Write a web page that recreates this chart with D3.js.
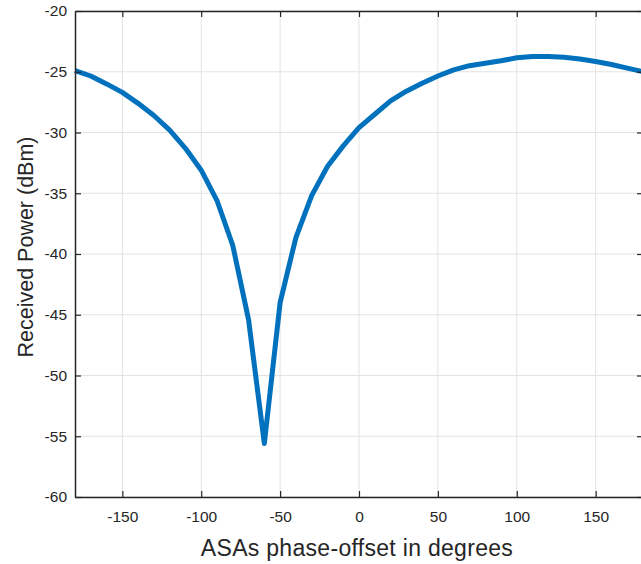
<!DOCTYPE html>
<html>
<head>
<meta charset="utf-8">
<script src="https://cdn.jsdelivr.net/npm/d3@7"></script>
<style>
  html, body { margin: 0; padding: 0; background: #fff; }
  svg { display: block; }
  text { font-family: Arial, "Liberation Sans", Helvetica, sans-serif; }
</style>
</head>
<body>
<svg id="chart" width="641" height="564"></svg>
<script>
// Phase offset (degrees) applied to the ASAs
const phaseOffset = [-180, -170, -160, -150, -140, -130, -120, -110, -100, -90,
  -80, -70, -60, -50, -40, -30, -20, -10, 0, 10, 20, 30, 40, 50, 60, 70, 80, 90,
  100, 110, 120, 130, 140, 150, 160, 170, 180];
// Received power (dBm) at each phase offset
const receivedPower = [-24.9, -25.35, -26.0, -26.7, -27.6, -28.6, -29.8, -31.3, -33.1, -35.6,
  -39.3, -45.4, -55.6, -44.0, -38.65, -35.2, -32.8, -31.1, -29.6, -28.5, -27.4, -26.6, -25.95, -25.35,
  -24.85, -24.5, -24.3, -24.1, -23.85, -23.75, -23.75, -23.8, -23.95, -24.15, -24.4, -24.7, -25.0];
const xTicks = [-150, -100, -50, 0, 50, 100, 150];
const yTicks = [-60, -55, -50, -45, -40, -35, -30, -25, -20];

const svg = d3.select("#chart");
const margin = { left: 75, top: 11, right: -2, bottom: 67 };
const W = 641, H = 564;
const x = d3.scaleLinear().domain([-180, 180]).range([margin.left, W - margin.right]);
const y = d3.scaleLinear().domain([-60, -20]).range([H - margin.bottom, margin.top]);

const gridColor = "#e3e3e3";
const axisColor = "#262626";

// grid lines
svg.append("g").selectAll("line.gx").data(xTicks).join("line")
  .attr("x1", d => x(d)).attr("x2", d => x(d))
  .attr("y1", y(-60)).attr("y2", y(-20))
  .attr("stroke", gridColor).attr("stroke-width", 1);
svg.append("g").selectAll("line.gy").data(yTicks).join("line")
  .attr("y1", d => y(d)).attr("y2", d => y(d))
  .attr("x1", x(-180)).attr("x2", x(180))
  .attr("stroke", gridColor).attr("stroke-width", 1);

// data line
const line = d3.line().x((d, i) => x(phaseOffset[i])).y(d => y(d));
svg.append("path").datum(receivedPower)
  .attr("d", line)
  .attr("fill", "none")
  .attr("stroke", "#0072BD")
  .attr("stroke-width", 5)
  .attr("stroke-linejoin", "round");

// axes (box style, inward ticks)
const tickLen = 6;
const fmt = d => d.toString();
const xAxis = d3.axisBottom(x).tickValues(xTicks).tickSizeInner(-tickLen).tickSizeOuter(0).tickPadding(14).tickFormat(fmt);
const yAxis = d3.axisLeft(y).tickValues(yTicks).tickSizeInner(-tickLen).tickSizeOuter(0).tickPadding(8).tickFormat(fmt);
const xTop = d3.axisTop(x).tickValues(xTicks).tickSizeInner(-tickLen).tickSizeOuter(0).tickFormat("");
const yRight = d3.axisRight(y).tickValues(yTicks).tickSizeInner(-tickLen).tickSizeOuter(0).tickFormat("");

function styleAxis(g) {
  g.select(".domain").attr("stroke", axisColor).attr("stroke-width", 1.5);
  g.selectAll(".tick line").attr("stroke", axisColor).attr("stroke-width", 1.2);
  g.selectAll(".tick text").attr("fill", axisColor).attr("font-size", 15.5)
    .attr("font-family", "Arial, 'Liberation Sans', Helvetica, sans-serif");
}
svg.append("g").attr("transform", `translate(0,${y(-60)})`).call(xAxis).call(styleAxis);
svg.append("g").attr("transform", `translate(${x(-180)},0)`).call(yAxis).call(styleAxis);
svg.append("g").attr("transform", `translate(0,${y(-20)})`).call(xTop).call(styleAxis);
svg.append("g").attr("transform", `translate(${x(180)},0)`).call(yRight).call(styleAxis);

// axis titles
svg.append("text")
  .attr("x", 357).attr("y", 556)
  .attr("text-anchor", "middle").attr("font-size", 23).attr("letter-spacing", 0.3)
  .attr("fill", axisColor)
  .text("ASAs phase-offset in degrees");
svg.append("text")
  .attr("transform", "translate(33,247) rotate(-90)")
  .attr("text-anchor", "middle").attr("font-size", 21.5).attr("fill", axisColor)
  .text("Received Power (dBm)");
</script>
</body>
</html>
